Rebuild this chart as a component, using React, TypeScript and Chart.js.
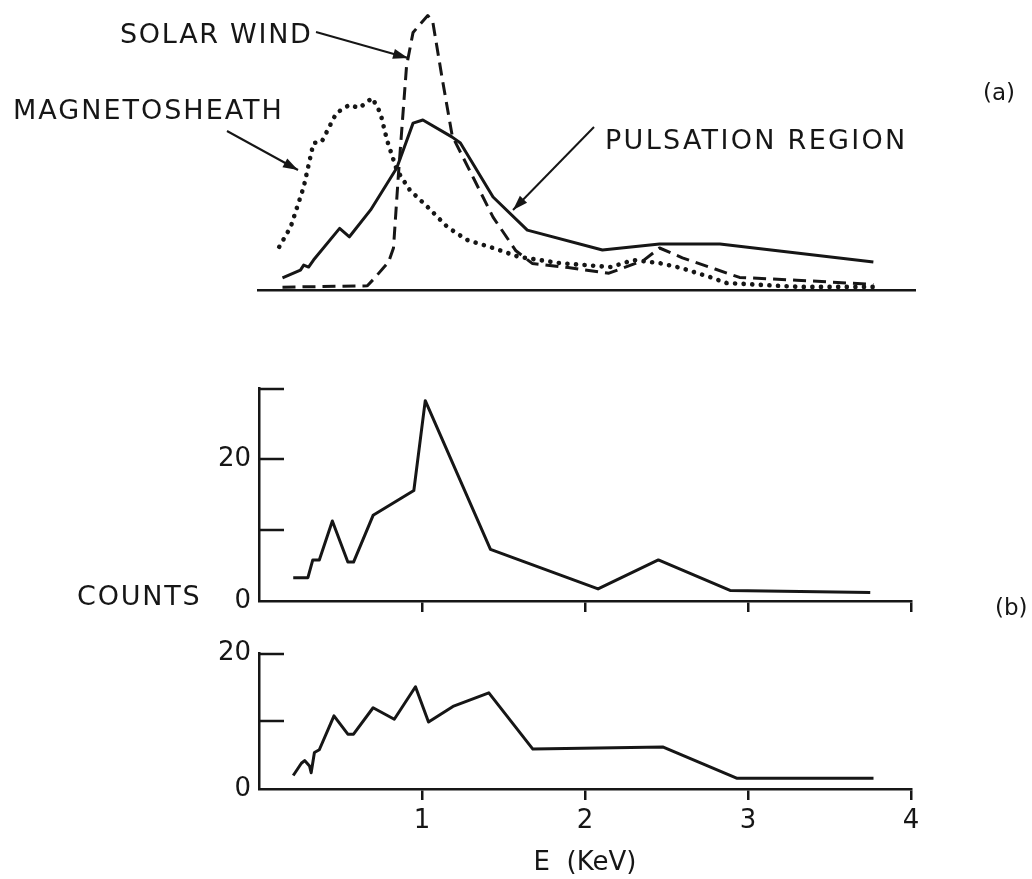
import React, { useEffect, useRef } from 'react';
import { Chart, registerables } from 'chart.js';

Chart.register(...registerables);

const INK = '#161616';
const FONT = '"DejaVu Sans", "Noto Sans", sans-serif';

// ---------- Panel (a): relative flux vs energy (keV) ----------
const solarWindE = [0.15, 0.67, 0.71, 0.8, 0.83, 0.86, 0.91, 0.95, 1.04, 1.07, 1.13, 1.19, 1.32, 1.44, 1.58, 1.68, 1.9, 2.15, 2.36, 2.46, 2.6, 2.8, 2.95, 3.3, 3.77];
const solarWindFlux = [1.0, 1.5, 4, 10, 15, 41, 80, 92, 98, 96, 75, 55, 40, 26, 14, 9.5, 8, 6, 10.5, 15, 11.5, 7.5, 4.5, 3.5, 2];

const pulsationE = [0.15, 0.26, 0.28, 0.31, 0.34, 0.5, 0.56, 0.69, 0.85, 0.95, 1.01, 1.19, 1.24, 1.44, 1.65, 2.11, 2.46, 2.83, 3.77];
const pulsationFlux = [4.3, 7.1, 8.9, 8.2, 10.7, 22, 19, 28.6, 43.6, 59.6, 60.7, 54.6, 52.5, 33.2, 21.4, 14.3, 16.4, 16.4, 10];

const magnetosheathE = [0.13, 0.2, 0.28, 0.34, 0.39, 0.48, 0.56, 0.62, 0.7, 0.75, 0.79, 0.85, 0.93, 1.04, 1.16, 1.28, 1.44, 1.6, 1.85, 2.16, 2.3, 2.46, 2.59, 2.77, 2.87, 3.32, 3.77];
const magnetosheathFlux = [15.4, 22.5, 36.8, 52.5, 52.9, 63.2, 66.1, 65, 68.6, 63.2, 53.6, 42.9, 35.7, 29.6, 22.5, 17.9, 15, 11.8, 9.6, 8.2, 10.7, 9.6, 7.9, 4.6, 2.5, 1.1, 1.1];

// ---------- Panel (b): counts vs energy (keV) ----------
const upperE = [0.21, 0.3, 0.33, 0.37, 0.45, 0.545, 0.58, 0.7, 0.95, 1.02, 1.42, 2.08, 2.45, 2.89, 3.75];
const upperCounts = [3.3, 3.3, 5.8, 5.8, 11.3, 5.5, 5.5, 12.1, 15.6, 28.3, 7.3, 1.7, 5.8, 1.5, 1.2];

const lowerE = [0.21, 0.26, 0.28, 0.31, 0.32, 0.34, 0.37, 0.46, 0.545, 0.58, 0.7, 0.83, 0.96, 1.04, 1.19, 1.41, 1.68, 2.48, 2.93, 3.77];
const lowerCounts = [2.0, 3.8, 4.2, 3.4, 2.4, 5.4, 5.8, 10.8, 8.1, 8.1, 12.0, 10.3, 15.1, 9.9, 12.2, 14.2, 5.9, 6.2, 1.6, 1.6];

// ---------- Axis / label texts ----------
const energyTicks = [1, 2, 3, 4];
const upperCountLabels = [0, 20];
const lowerCountLabels = [0, 20];
const xTitle = 'E  (KeV)';
const yTitle = 'COUNTS';
const labelSolarWind = 'SOLAR WIND';
const labelMagnetosheath = 'MAGNETOSHEATH';
const labelPulsation = 'PULSATION REGION';
const labelA = '(a)';
const labelB = '(b)';

const pts = (xs: number[], ys: number[]) => xs.map((x, i) => ({ x, y: ys[i] }));

function drawArrow(ctx: CanvasRenderingContext2D, x1: number, y1: number, x2: number, y2: number) {
  ctx.beginPath();
  ctx.moveTo(x1, y1);
  ctx.lineTo(x2, y2);
  ctx.stroke();
  const a = Math.atan2(y2 - y1, x2 - x1);
  const L = 15, W = 5;
  ctx.beginPath();
  ctx.moveTo(x2, y2);
  ctx.lineTo(x2 - L * Math.cos(a) + W * Math.sin(a), y2 - L * Math.sin(a) - W * Math.cos(a));
  ctx.lineTo(x2 - L * Math.cos(a) - W * Math.sin(a), y2 - L * Math.sin(a) + W * Math.cos(a));
  ctx.closePath();
  ctx.fill();
}

function drawText(ctx: CanvasRenderingContext2D, text: string, x: number, y: number, size: number, spacing: number) {
  ctx.save();
  ctx.font = `${size}px ${FONT}`;
  (ctx as any).letterSpacing = `${spacing}px`;
  ctx.fillStyle = INK;
  ctx.textBaseline = 'alphabetic';
  ctx.textAlign = 'left';
  ctx.fillText(text, x, y);
  ctx.restore();
}

const annotationsA = {
  id: 'annotationsA',
  afterDraw(chart: any) {
    const ctx: CanvasRenderingContext2D = chart.ctx;
    ctx.save();
    ctx.strokeStyle = INK;
    ctx.fillStyle = INK;
    ctx.lineWidth = 2;
    drawArrow(ctx, 316, 32, 408, 58);
    drawArrow(ctx, 227, 131, 298, 170);
    drawArrow(ctx, 594, 127, 513, 210);
    ctx.restore();
    drawText(ctx, labelSolarWind, 120, 43, 27, 1.7);
    drawText(ctx, labelMagnetosheath, 13, 119, 27, 2);
    drawText(ctx, labelPulsation, 605, 149, 27, 2.3);
    drawText(ctx, labelA, 983, 100, 23, 0);
  },
};

const inwardTicks = {
  id: 'inwardTicks',
  afterDraw(chart: any) {
    const ys = chart.scales.y;
    const { ctx, chartArea } = chart;
    ctx.save();
    ctx.strokeStyle = INK;
    ctx.lineWidth = 2.5;
    ys.ticks.forEach((t: any) => {
      if (t.value === 0) return;
      const py = Math.round(ys.getPixelForValue(t.value));
      ctx.beginPath();
      ctx.moveTo(chartArea.left, py);
      ctx.lineTo(chartArea.left + 25, py);
      ctx.stroke();
    });
    ctx.restore();
  },
};

const annotationsB = {
  id: 'annotationsB',
  afterDraw(chart: any) {
    drawText(chart.ctx, yTitle, 77, 240, 27, 1.8);
    drawText(chart.ctx, labelB, 995, 250, 23, 0);
  },
};

function useChart(ref: React.RefObject<HTMLCanvasElement>, make: () => any) {
  useEffect(() => {
    if (!ref.current) return;
    const chart = new Chart(ref.current, make());
    return () => chart.destroy();
  }, []);
}

const solidStyle = { borderColor: INK, borderWidth: 3, pointRadius: 0, borderJoinStyle: 'round', tension: 0, fill: false };

function xCountAxis(showLabels: boolean, height: number) {
  return {
    type: 'linear',
    min: 0,
    max: 4,
    afterFit: (s: any) => { s.height = height; },
    afterBuildTicks: (s: any) => { s.ticks = [0, ...energyTicks].map((v) => ({ value: v })); },
    grid: {
      display: true,
      drawOnChartArea: false,
      drawTicks: true,
      tickLength: 11,
      lineWidth: 2.5,
      color: (c: any) => (c.tick && c.tick.value === 0 ? 'rgba(0,0,0,0)' : INK),
    },
    border: { display: true, width: 2.5, color: INK },
    ticks: {
      display: showLabels,
      color: INK,
      padding: 6,
      font: { family: FONT, size: 26 },
      callback: (v: number) => (energyTicks.includes(v) ? String(v) : ''),
    },
    title: {
      display: showLabels,
      text: xTitle,
      color: INK,
      font: { family: FONT, size: 26 },
      padding: { top: 0, bottom: 0 },
    },
  };
}

function yCountAxis(max: number, labelled: number[]) {
  return {
    type: 'linear',
    min: 0,
    max,
    afterFit: (s: any) => { s.width = 60; },
    ticks: {
      stepSize: 10,
      color: INK,
      padding: 8,
      font: { family: FONT, size: 26 },
      callback: (v: number) => (labelled.includes(v) ? String(v) : ''),
    },
    grid: { display: false, drawTicks: false },
    border: { display: true, width: 2.5, color: INK },
  };
}

const baseOptions = {
  responsive: false,
  animation: false,
  events: [],
  plugins: { legend: { display: false }, tooltip: { enabled: false } },
};

function PanelA() {
  const ref = useRef<HTMLCanvasElement>(null);
  useChart(ref, () => ({
    type: 'line',
    data: {
      datasets: [
        { ...solidStyle, label: labelPulsation, data: pts(pulsationE, pulsationFlux) },
        { ...solidStyle, label: labelSolarWind, data: pts(solarWindE, solarWindFlux), borderWidth: 3, borderDash: [13, 7] },
        { ...solidStyle, label: labelMagnetosheath, data: pts(magnetosheathE, magnetosheathFlux), borderWidth: 4.6, borderDash: [0.1, 8.5], borderCapStyle: 'round' },
      ],
    },
    options: {
      ...baseOptions,
      layout: { padding: { left: 258, right: 117, top: 10, bottom: 10 } },
      scales: {
        x: {
          type: 'linear',
          min: 0,
          max: 4.025,
          afterFit: (s: any) => { s.height = 0; },
          grid: { display: false, drawTicks: false },
          ticks: { display: false },
          border: { display: true, width: 2.5, color: INK },
        },
        y: { type: 'linear', display: false, min: 0, max: 100 },
      },
    },
    plugins: [annotationsA],
  }));
  return <canvas ref={ref} width={1032} height={300} style={{ position: 'absolute', left: 0, top: 0, width: 1032, height: 300 }} />;
}

function PanelB1() {
  const ref = useRef<HTMLCanvasElement>(null);
  useChart(ref, () => ({
    type: 'line',
    data: { datasets: [{ ...solidStyle, label: 'upper', data: pts(upperE, upperCounts) }] },
    options: {
      ...baseOptions,
      layout: { padding: { left: 199, right: 121, top: 17, bottom: 4 } },
      scales: { x: xCountAxis(false, 25), y: yCountAxis(30, upperCountLabels) },
    },
    plugins: [inwardTicks, annotationsB],
  }));
  return <canvas ref={ref} width={1032} height={265} style={{ position: 'absolute', left: 0, top: 365, width: 1032, height: 265 }} />;
}

function PanelB2() {
  const ref = useRef<HTMLCanvasElement>(null);
  useChart(ref, () => ({
    type: 'line',
    data: { datasets: [{ ...solidStyle, label: 'lower', data: pts(lowerE, lowerCounts) }] },
    options: {
      ...baseOptions,
      layout: { padding: { left: 199, right: 121, top: 10, bottom: 0 } },
      scales: { x: xCountAxis(true, 90), y: yCountAxis(20, lowerCountLabels) },
    },
    plugins: [inwardTicks],
  }));
  return <canvas ref={ref} width={1032} height={249} style={{ position: 'absolute', left: 0, top: 630, width: 1032, height: 249 }} />;
}

export default function App() {
  return (
    <div style={{ position: 'absolute', left: 0, top: 0, width: 1032, height: 879, background: '#ffffff', overflow: 'hidden' }}>
      <PanelA />
      <PanelB1 />
      <PanelB2 />
    </div>
  );
}
